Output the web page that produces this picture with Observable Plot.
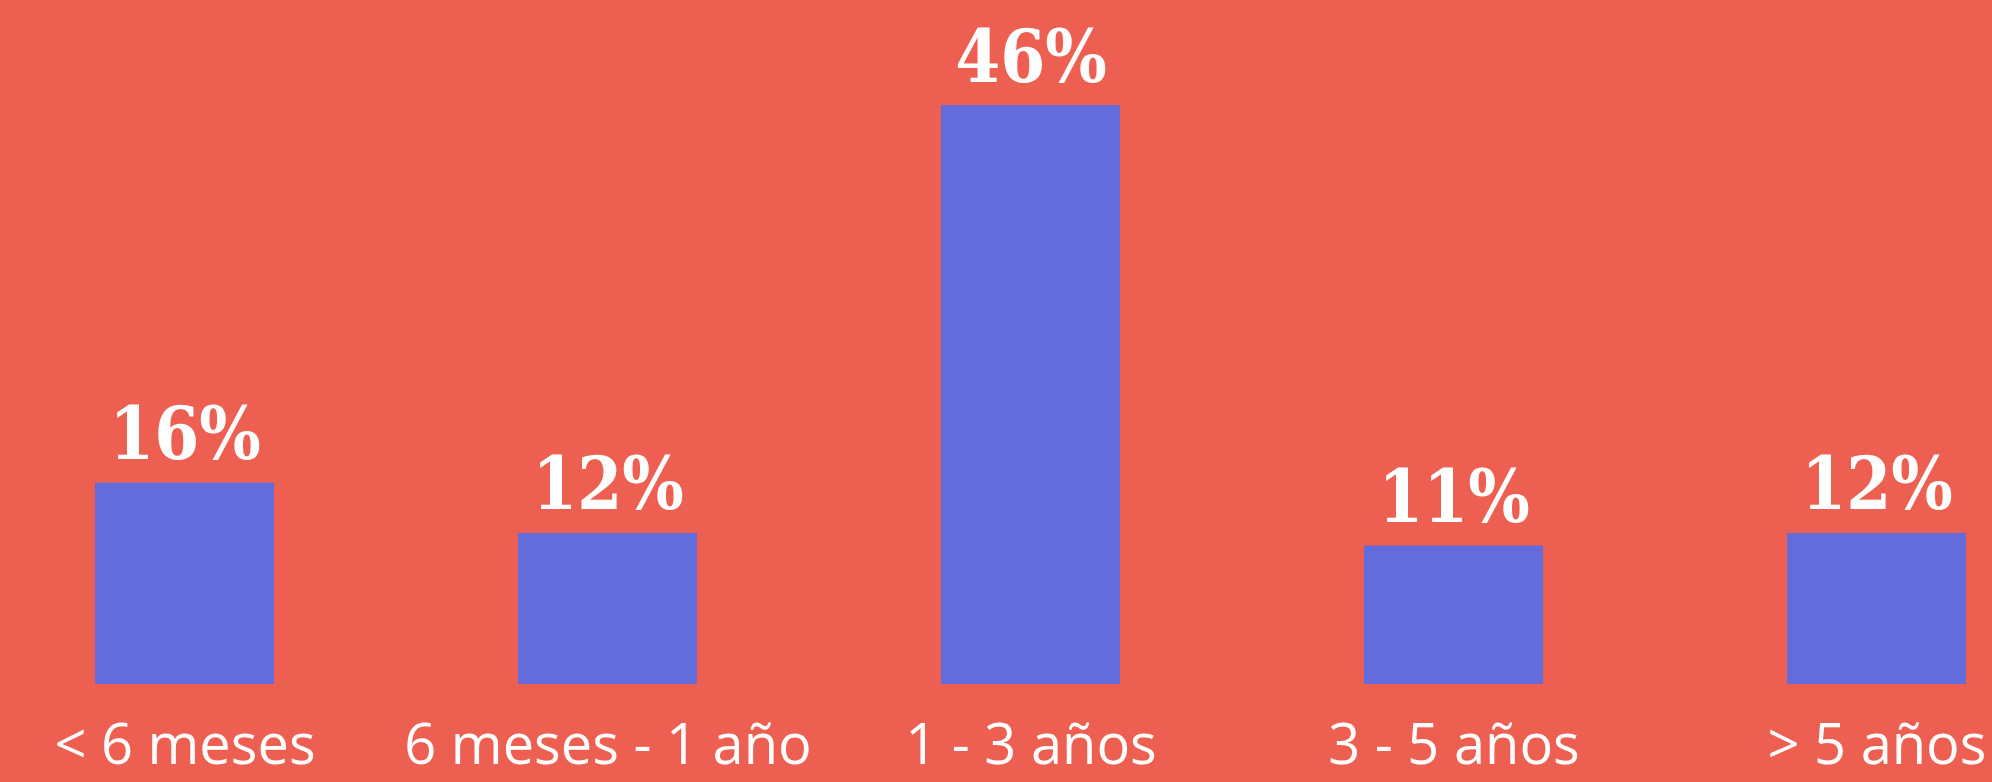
<!DOCTYPE html>
<html>
<head>
<meta charset="utf-8">
<script src="https://cdn.jsdelivr.net/npm/d3@7"></script>
<script src="https://cdn.jsdelivr.net/npm/@observablehq/plot@0.6"></script>
<style>
  html, body { margin: 0; padding: 0; background: #EC5F51; overflow: hidden; }
  #chart svg { display: block; }
</style>
</head>
<body>
<div id="chart"></div>
<script>
const categories = ["< 6 meses", "6 meses - 1 año", "1 - 3 años", "3 - 5 años", "> 5 años"];
const values = [16, 12, 46, 11, 12];
const valueLabels = ["16%", "12%", "46%", "11%", "12%"];

const data = categories.map((c, i) => ({category: c, value: values[i], label: valueLabels[i]}));

const chart = Plot.plot({
  width: 1992,
  height: 782,
  marginLeft: 94.5,
  marginRight: 26.4,
  marginTop: 105,
  marginBottom: 98,
  style: {background: "#EC5F51", color: "#ffffff", overflow: "visible"},
  x: {domain: categories, padding: 0.5768, paddingOuter: 0, label: null},
  y: {domain: [0, 46], axis: null},
  marks: [
    Plot.barY(data, {x: "category", y: "value", fill: "#646CDC"}),
    Plot.text(data, {
      x: "category", y: "value", text: "label",
      lineAnchor: "bottom", dy: -24,
      fill: "#ffffff",
      fontSize: 72,
      fontWeight: 900,
      fontFamily: "'DejaVu Serif Condensed', 'DejaVu Serif', serif"
    }),
    Plot.axisX({
      tickSize: 0,
      tickPadding: 40,
      fontSize: 56,
      fill: "#ffffff",
      fontFamily: "'Open Sans', sans-serif",
      label: null
    })
  ]
});
document.getElementById("chart").appendChild(chart);
</script>
</body>
</html>
